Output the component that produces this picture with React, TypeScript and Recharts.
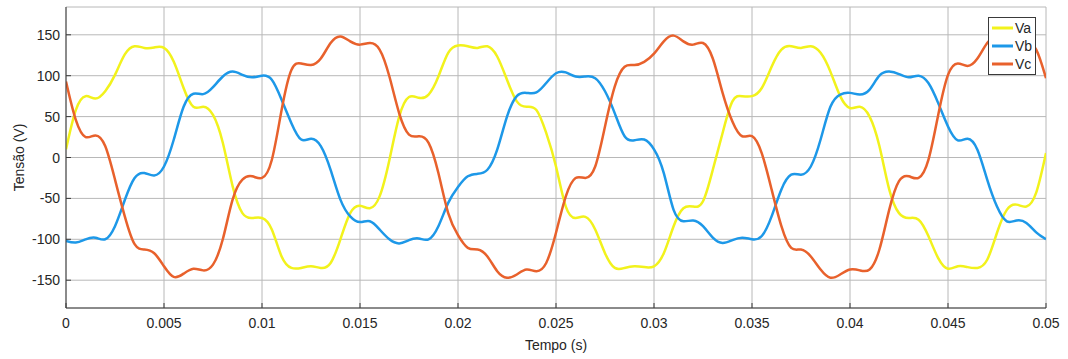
import { LineChart, Line, XAxis, YAxis, CartesianGrid, Legend } from 'recharts';

// sample step of the waveforms (s)
const T_STEP = 0.0005;

const va = [
  10, 58, 75, 72, 81, 101, 126, 136, 134, 134.5, 134, 117, 85, 62, 62, 52, 18, -35, -68, -74, -74,
  -88, -121, -135, -135, -133, -135, -129, -100, -68, -59, -62, -47.5, -3, 50, 74, 73, 77, 99, 128, 137,
  136, 134, 136, 123.5, 95, 68.6, 62, 58, 30, -11, -60, -74, -72.6, -88, -117, -135, -135, -133, -134, -133,
  -117, -84, -62, -60, -53.5, -15, 30, 68.6, 75, 75, 85, 111, 132, 136, 134, 136, 128, 105, 75, 60.5,
  62, 50, 14, -39, -68, -74, -76, -96, -123, -136, -133, -134, -135, -125, -92, -64, -57.6, -60, -43, 5.5,
];

const vb = [
  -102, -104, -100, -98, -100, -84, -52, -25, -19, -22, -11, 22, 62, 78, 77.5, 86, 99, 105, 101, 98, 100,
  95, 70.6, 42, 22, 23, 14, -15, -51.5, -72, -79, -78, -88, -100, -105, -101, -99, -100, -84, -55.5, -36,
  -23, -20, -15, 9.6, 50, 75, 79, 79.5, 91, 103, 104, 99, 99, 97, 81, 54, 26, 21, 22, 10,
  -19, -64, -78, -77, -84, -98, -104.5, -101, -98, -100, -96, -72, -39, -21, -21, -11, 22, 62, 77, 79,
  77, 83, 100, 105, 102, 98, 100, 91, 66.5, 38, 21, 23, 9.6, -27, -60, -78, -77, -80, -91.5, -100,
];

const vc = [
  93, 46, 25, 27, 14, -27, -72, -106, -112.5, -117, -133, -146, -142, -136, -138, -131, -100, -51.5, -27, -23, -25,
  -3, 58, 107, 115, 113, 121, 140, 148, 142, 138, 140, 132, 99, 54, 28, 26, 18, -19, -68, -95,
  -110.5, -112.5, -121, -139, -147, -143, -137, -139, -129, -92, -47.5, -25, -25, -11, 38, 87, 111, 113, 117, 127,
  142, 149, 142, 138, 140, 121, 79, 44, 26, 26, 5, -39, -84, -110.5, -112.5, -121, -137, -147, -143, -137,
  -138, -137, -112.5, -64, -29, -23, -25, -3, 52, 101, 115, 112, 121, 140, 148, 142, 138, 140, 132, 97,
];

const xTicks = [0, 0.005, 0.01, 0.015, 0.02, 0.025, 0.03, 0.035, 0.04, 0.045, 0.05];
const xTickLabels = ['0', '0.005', '0.01', '0.015', '0.02', '0.025', '0.03', '0.035', '0.04', '0.045', '0.05'];
const yTicks = [-150, -100, -50, 0, 50, 100, 150];
const yTickLabels = ['-150', '-100', '-50', '0', '50', '100', '150'];

const seriesNames = ['Va', 'Vb', 'Vc'];
const seriesColors = ['#F2F21C', '#1D98E8', '#E8612C'];

const data = va.map((v, i) => ({
  t: Number((i * T_STEP).toFixed(4)),
  Va: v,
  Vb: vb[i],
  Vc: vc[i],
}));

const FONT = '"Liberation Sans", Arial, Helvetica, sans-serif';
const TEXT = '#262626';
const AXIS = '#3a3a3a';
const TICK_LEN = 5;

function BottomTick({ x, y, payload }: any) {
  const i = xTicks.indexOf(payload.value);
  return (
    <g>
      <line x1={x} x2={x} y1={y} y2={y - TICK_LEN} stroke={AXIS} />
      <text x={x} y={y + 20} textAnchor="middle" fontSize={14} fontFamily={FONT} fill={TEXT}>
        {i >= 0 ? xTickLabels[i] : payload.value}
      </text>
    </g>
  );
}

function TopTick({ x, y }: any) {
  return <line x1={x} x2={x} y1={y} y2={y + TICK_LEN} stroke={AXIS} />;
}

function LeftTick({ x, y, payload }: any) {
  const i = yTicks.indexOf(payload.value);
  return (
    <g>
      <line x1={x} x2={x + TICK_LEN} y1={y} y2={y} stroke={AXIS} />
      <text x={x - 6} y={y + 5} textAnchor="end" fontSize={14} fontFamily={FONT} fill={TEXT}>
        {i >= 0 ? yTickLabels[i] : payload.value}
      </text>
    </g>
  );
}

function RightTick({ x, y }: any) {
  return <line x1={x} x2={x - TICK_LEN} y1={y} y2={y} stroke={AXIS} />;
}

function LegendBox({ payload }: any) {
  return (
    <div
      style={{
        boxSizing: 'border-box',
        width: 48,
        border: `1px solid ${AXIS}`,
        background: '#fff',
        padding: '1px 0 1px 3px',
        fontFamily: FONT,
        fontSize: 14,
        lineHeight: '18px',
        color: TEXT,
      }}
    >
      {(payload || []).map((p: any) => (
        <div key={p.value} style={{ display: 'flex', alignItems: 'center', height: 18 }}>
          <svg width={21} height={6} style={{ marginRight: 2, flex: 'none' }}>
            <line x1={0} x2={21} y1={3} y2={3} stroke={p.color} strokeWidth={3} />
          </svg>
          <span>{p.value}</span>
        </div>
      ))}
    </div>
  );
}

export default function App() {
  return (
    <div style={{ position: 'absolute', left: 0, top: 0, width: 1068, height: 359, background: '#fff' }}>
      <LineChart width={1068} height={359} data={data} margin={{ top: 7, right: 22, bottom: 21, left: 26 }}>
        <CartesianGrid stroke="#b8b8b8" strokeWidth={1} />
        <XAxis
          dataKey="t"
          type="number"
          domain={[0, 0.05]}
          ticks={xTicks}
          interval={0}
          height={30}
          tickSize={0}
          tickMargin={0}
          tickLine={false}
          axisLine={{ stroke: AXIS }}
          tick={<BottomTick />}
          allowDataOverflow
          label={{
            content: ({ viewBox }: any) => (
              <text
                x={viewBox.x + viewBox.width / 2}
                y={viewBox.y + 42}
                textAnchor="middle"
                fontSize={14}
                fontFamily={FONT}
                fill={TEXT}
              >
                Tempo (s)
              </text>
            ),
          }}
        />
        <XAxis
          xAxisId="top"
          orientation="top"
          dataKey="t"
          type="number"
          domain={[0, 0.05]}
          ticks={xTicks}
          interval={0}
          height={0}
          tickSize={0}
          tickMargin={0}
          tickLine={false}
          axisLine={{ stroke: AXIS }}
          tick={<TopTick />}
          allowDataOverflow
        />
        <YAxis
          type="number"
          domain={[-184, 184]}
          ticks={yTicks}
          interval={0}
          width={40}
          tickSize={0}
          tickMargin={0}
          tickLine={false}
          axisLine={{ stroke: AXIS }}
          tick={<LeftTick />}
          allowDataOverflow
          label={{
            content: ({ viewBox }: any) => {
              const cy = viewBox.y + viewBox.height / 2;
              return (
                <text
                  transform={`translate(24, ${cy}) rotate(-90)`}
                  textAnchor="middle"
                  fontSize={14}
                  fontFamily={FONT}
                  fill={TEXT}
                >
                  Tensão (V)
                </text>
              );
            },
          }}
        />
        <YAxis
          yAxisId="right"
          orientation="right"
          type="number"
          domain={[-184, 184]}
          ticks={yTicks}
          interval={0}
          width={0}
          tickSize={0}
          tickMargin={0}
          tickLine={false}
          axisLine={{ stroke: AXIS }}
          tick={<RightTick />}
          allowDataOverflow
        />
        <Legend
          layout="horizontal"
          align="center"
          verticalAlign="middle"
          content={<LegendBox />}
          wrapperStyle={{ left: 988, top: 17, width: 48, height: 'auto' }}
        />
        {seriesNames.map((name, i) => (
          <Line
            key={name}
            type="natural"
            dataKey={name}
            name={name}
            stroke={seriesColors[i]}
            strokeWidth={2.5}
            dot={false}
            activeDot={false}
            isAnimationActive={false}
          />
        ))}
      </LineChart>
    </div>
  );
}
